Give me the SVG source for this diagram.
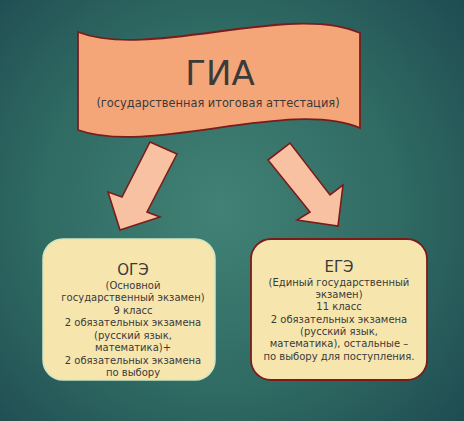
<svg xmlns="http://www.w3.org/2000/svg" width="464" height="421" viewBox="0 0 464 421">
<defs>
<radialGradient id="bg" cx="220" cy="210" r="330" gradientUnits="userSpaceOnUse">
<stop offset="0" stop-color="#428276"/>
<stop offset="0.55" stop-color="#2f6a63"/>
<stop offset="1" stop-color="#1e4a50"/>
</radialGradient>
<style>
.t{font-family:"DejaVu Sans","Liberation Sans",sans-serif;fill:#3a3a3a;text-anchor:middle}
.arrow{fill:#f8c2a2;stroke:#7a1c1c;stroke-width:1.6;stroke-linejoin:miter}
.sm{font-size:10px}
</style>
</defs>
<rect width="464" height="421" fill="url(#bg)"/>
<g id="gia">
<path d="M78,32 C150,60 290,2 360,33 L360,128 C290,98 150,156 78,130 Z" fill="#f4a679" stroke="#7a1c1c" stroke-width="1.8"/>
<text class="t" x="220" y="85" font-size="34">ГИА</text>
<text class="t" x="218" y="107" font-size="11.4" fill="#555">(государственная итоговая аттестация)</text>
</g>
<g id="connectors">
<polygon class="arrow" points="150,142 177,154 147,212 160,217 120,230 108,192 122,197"/>
<polygon class="arrow" points="268,160 290,143 330,195 343,185 338,226 297,220 310,212"/>
</g>
<g id="oge">
<rect x="43" y="239" width="172" height="141" rx="20" fill="#f6e6ae" stroke="#cfe6c4" stroke-width="1.5"/>
<text class="t" x="133" y="275" font-size="15">ОГЭ</text>
<text class="t sm" x="133" y="289">(Основной</text>
<text class="t sm" x="133" y="301">государственный экзамен)</text>
<text class="t sm" x="133" y="314">9 класс</text>
<text class="t sm" x="133" y="326">2 обязательных экзамена</text>
<text class="t sm" x="133" y="339">(русский язык,</text>
<text class="t sm" x="133" y="351">математика)+</text>
<text class="t sm" x="133" y="364">2 обязательных экзамена</text>
<text class="t sm" x="133" y="376">по выбору</text>
</g>
<g id="ege">
<rect x="251" y="239" width="176" height="141" rx="20" fill="#f6e6ae" stroke="#7a1c1c" stroke-width="1.8"/>
<text class="t" x="339" y="272" font-size="15">ЕГЭ</text>
<text class="t sm" x="339" y="286">(Единый государственный</text>
<text class="t sm" x="339" y="298">экзамен)</text>
<text class="t sm" x="339" y="310">11 класс</text>
<text class="t sm" x="339" y="323">2 обязательных экзамена</text>
<text class="t sm" x="339" y="335">(русский язык,</text>
<text class="t sm" x="339" y="347">математика),  остальные –</text>
<text class="t sm" x="339" y="360">по выбору для поступления.</text>
</g>
</svg>
